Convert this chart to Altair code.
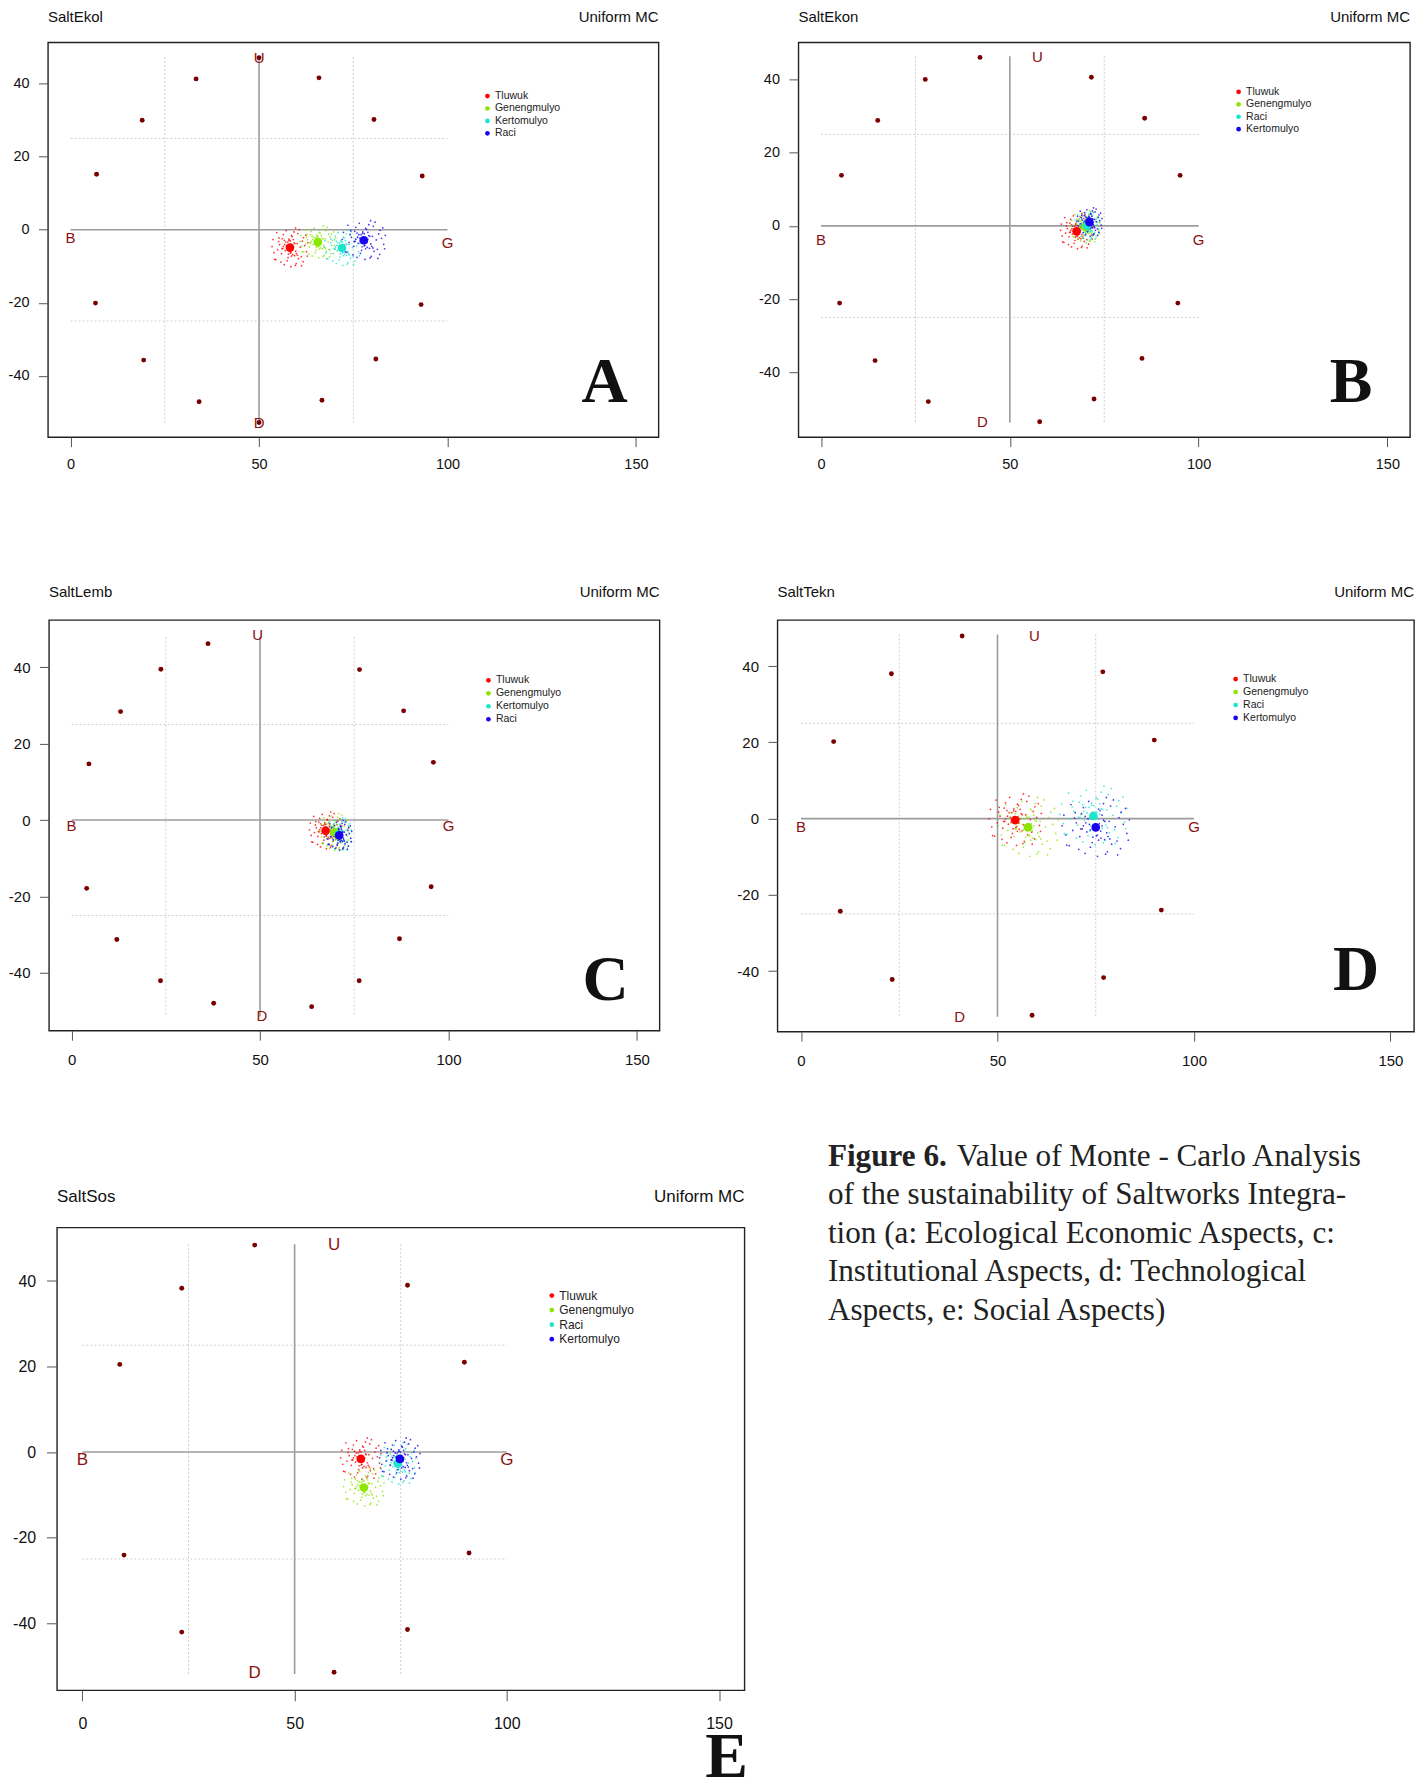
import altair as alt
import pandas as pd

# ---------------- shared values ----------------
X_DOMAIN = [-6, 156]
X_TICKS = [0, 50, 100, 150]
Y_TICKS = [-40, -20, 0, 20, 40]
GROUP_COLORS = ["#FF0000", "#8CE600", "#1AE6CC", "#1A00F0"]
ANCHOR_COLOR = "#7A0000"
LABEL_COLOR = "#8B1010"
LEGEND_X = 110.6                    # data position of legend symbols
LEGEND_Y = [36.6, 33.2, 29.8, 26.4]
LABEL_TEXT = ["U", "D", "B", "G"]

# normalised Monte-Carlo scatter offsets (outer and inner parts of a cloud)
JX = [0.12, -0.45, 0.78, -0.90, 0.33, -0.20, 0.60, -0.65, 0.05, 0.95, -0.35, 0.42,
      -0.75, 0.18, -0.05, 0.70, -0.55, 0.25, -0.85, 0.50, -0.15, 0.88, -0.40, 0.30,
      -0.70, 0.62, -0.25, 0.08, 0.45, -0.60, 0.15, -0.95, 0.72, -0.30, 0.38, -0.10,
      0.55, -0.48, 0.22, -0.82, 0.92, -0.12, 0.02, -0.58, 0.66, -0.38, 0.28, 0.84,
      0.10, -0.22, 0.31, -0.08, 0.18, -0.35, 0.05, 0.26, -0.15, 0.40, -0.28, 0.02,
      0.14, -0.42, 0.22, -0.05, 0.35, -0.18, 0.08, -0.30]
JY = [0.55, -0.30, 0.10, 0.40, -0.80, 0.85, -0.45, -0.10, -0.95, 0.25, 0.65, 0.70,
      -0.60, 0.05, 0.35, -0.70, 0.15, -0.40, -0.25, 0.90, -0.65, -0.20, 0.45, 0.98,
      0.75, -0.90, -0.15, 0.60, -0.55, 0.30, -0.35, 0.05, 0.50, -0.85, 0.20, -0.50,
      0.02, -0.72, 0.78, -0.58, -0.42, 0.28, -0.28, 0.48, 0.32, -0.05, -0.88, 0.62,
      0.12, 0.28, -0.18, -0.32, 0.40, 0.05, -0.25, 0.20, -0.08, -0.38, 0.15, 0.33,
      -0.12, -0.05, 0.24, 0.42, -0.30, 0.10, -0.42, 0.36]

# ---------------- panel A : SaltEkol ----------------
A_title = "SaltEkol"
A_groups = ["Tluwuk", "Genengmulyo", "Kertomulyo", "Raci"]
A_cx = [58.2, 65.6, 72.0, 77.8]
A_cy = [-4.9, -3.4, -5.0, -2.9]
A_sx = [5.0, 5.0, 5.0, 6.0]
A_sy = [5.5, 4.5, 5.0, 5.5]
A_anchor_x = [33.3, 65.9, 19.0, 80.5, 6.9, 93.3, 6.6, 93.0, 19.4, 81.0, 34.1, 66.7, 50.0, 50.0]
A_anchor_y = [41.3, 41.6, 30.0, 30.2, 15.2, 14.7, -20.1, -20.5, -35.7, -35.4, -47.1, -46.7, 47.1, -52.8]
A_lab_x = [50.0, 50.0, 0.0, 100.0]
A_lab_y = [47.1, -52.8, -2.4, -3.5]
A_line = [47.3, -52.8]
A_ydom = [-56.8, 51.3]

# ---------------- panel B : SaltEkon ----------------
B_title = "SaltEkon"
B_groups = ["Tluwuk", "Genengmulyo", "Raci", "Kertomulyo"]
B_cx = [67.7, 70.0, 70.4, 71.1]
B_cy = [-1.5, -0.3, 0.0, 1.0]
B_sx = [4.5, 4.0, 3.5, 3.5]
B_sy = [5.0, 4.5, 4.0, 4.0]
B_anchor_x = [42.1, 27.6, 71.6, 15.0, 85.7, 5.4, 95.1, 4.9, 94.5, 14.3, 85.0, 28.4, 72.3, 57.9]
B_anchor_y = [46.0, 40.0, 40.6, 28.8, 29.4, 13.8, 13.8, -21.1, -21.1, -36.8, -36.2, -48.0, -47.3, -53.5]
B_lab_x = [57.3, 42.7, 0.0, 100.0]
B_lab_y = [46.1, -53.7, -3.8, -3.8]
B_line = [46.3, -53.7]
B_ydom = [-57.7, 50.1]

# ---------------- panel C : SaltLemb ----------------
C_title = "SaltLemb"
C_groups = ["Tluwuk", "Genengmulyo", "Kertomulyo", "Raci"]
C_cx = [67.4, 69.7, 70.9, 71.0]
C_cy = [-2.8, -3.2, -3.8, -4.0]
C_sx = [4.5, 4.0, 3.5, 3.5]
C_sy = [5.0, 5.0, 4.5, 4.0]
C_anchor_x = [36.2, 23.7, 76.4, 13.0, 88.1, 4.6, 96.0, 4.0, 95.4, 12.0, 87.0, 23.6, 76.3, 37.7, 63.7]
C_anchor_y = [46.2, 39.5, 39.4, 28.4, 28.6, 14.7, 15.1, -17.9, -17.5, -31.3, -31.1, -42.1, -42.1, -48.0, -48.9]
C_lab_x = [49.4, 50.5, 0.0, 100.0]
C_lab_y = [48.5, -51.3, -1.5, -1.5]
C_line = [48.0, -51.5]
C_ydom = [-55.2, 52.4]

# ---------------- panel D : SaltTekn ----------------
D_title = "SaltTekn"
D_groups = ["Tluwuk", "Genengmulyo", "Raci", "Kertomulyo"]
D_cx = [54.5, 57.8, 74.4, 75.0]
D_cy = [-0.4, -2.3, 0.7, -2.3]
D_sx = [7.0, 8.0, 9.0, 9.0]
D_sy = [7.0, 8.0, 8.0, 8.0]
D_anchor_x = [41.0, 23.0, 76.8, 8.3, 89.9, 10.0, 91.7, 23.2, 77.0, 58.8]
D_anchor_y = [47.9, 38.0, 38.5, 20.2, 20.6, -24.3, -24.0, -42.2, -41.7, -51.6]
D_lab_x = [59.4, 40.4, 0.0, 100.0]
D_lab_y = [48.0, -52.0, -2.1, -2.1]
D_line = [48.3, -52.0]
D_ydom = [-55.9, 52.1]

# ---------------- panel E : SaltSos ----------------
E_title = "SaltSos"
E_groups = ["Tluwuk", "Genengmulyo", "Raci", "Kertomulyo"]
E_cx = [65.6, 66.3, 74.3, 74.8]
E_cy = [-1.6, -8.3, -2.7, -1.6]
E_sx = [5.0, 5.0, 4.5, 5.0]
E_sy = [5.0, 4.5, 5.0, 5.0]
E_anchor_x = [40.6, 23.4, 76.6, 8.8, 90.0, 9.8, 91.1, 23.4, 76.6, 59.3]
E_anchor_y = [48.4, 38.3, 39.0, 20.5, 21.0, -24.1, -23.6, -42.1, -41.5, -51.5]
E_lab_x = [59.3, 40.6, 0.0, 100.0]
E_lab_y = [48.4, -51.7, -1.75, -1.75]
E_line = [48.6, -51.9]
E_ydom = [-55.7, 52.5]

CAPTION_BOLD = "Figure 6."
CAPTION_LINES = [
    "Value of Monte - Carlo Analysis",
    "of the sustainability of Saltworks Integra-",
    "tion (a: Ecological Economic Aspects, c:",
    "Institutional Aspects, d: Technological",
    "Aspects, e: Social Aspects)",
]

SANS = "Liberation Sans"
SERIF = "Liberation Serif"
ONE = pd.DataFrame({"t": [0]})


def text_at(text, x, y, **kw):
    return alt.Chart(ONE).mark_text(text=text, **kw).encode(x=alt.value(x), y=alt.value(y))


def panel(title, groups, cx, cy, sx, sy, ax, ay, lx, ly, line, ydom, letter,
          W, H, fs, ax_style, letter_pos, title_off, frame, extra=None):
    tick_fs, title_fs, leg_fs, lab_fs = fs
    tick, xpad, ypad = ax_style
    xs = alt.Scale(domain=X_DOMAIN, nice=False, zero=False)
    ys = alt.Scale(domain=ydom, nice=False, zero=False)
    common = dict(title=None, grid=False, domain=False, tickSize=tick, tickColor="#555",
                  labelFont=SANS, labelFontSize=tick_fs, labelColor="#111",
                  labelFlush=False, labelExpr="datum.value")
    xaxis = alt.Axis(values=X_TICKS, labelPadding=xpad, **common)
    yaxis = alt.Axis(values=Y_TICKS, labelPadding=ypad, **common)
    X = lambda f: alt.X(f, type="quantitative", scale=xs, axis=xaxis)
    Y = lambda f: alt.Y(f, type="quantitative", scale=ys, axis=yaxis)

    top, bot = line
    grid_df = pd.DataFrame({"x": [25, 75, 0, 0], "x2": [25, 75, 100, 100],
                            "y": [top, top, 25, -25], "y2": [bot, bot, 25, -25]})
    axis_df = pd.DataFrame({"x": [50, 0], "x2": [50, 100], "y": [top, 0], "y2": [bot, 0]})

    grid = alt.Chart(grid_df).mark_rule(color="#cfcfcf", strokeDash=[2, 2], strokeWidth=1).encode(
        x=X("x"), x2="x2:Q", y=Y("y"), y2="y2:Q")
    axes = alt.Chart(axis_df).mark_rule(color="#9c9c9c", strokeWidth=1.6).encode(
        x=X("x"), x2="x2:Q", y=Y("y"), y2="y2:Q")

    anchors = alt.Chart(pd.DataFrame({"x": ax, "y": ay})).mark_circle(
        size=24, color=ANCHOR_COLOR, opacity=1).encode(x=X("x"), y=Y("y"))

    labels = alt.Chart(pd.DataFrame({"x": lx, "y": ly, "t": LABEL_TEXT})).mark_text(
        color=LABEL_COLOR, font=SANS, fontSize=lab_fs, baseline="middle", align="center").encode(
        x=X("x"), y=Y("y"), text="t:N")

    cscale = alt.Scale(domain=groups, range=GROUP_COLORS)
    C = alt.Color("g:N", scale=cscale, legend=None)

    cloud_rows = []
    for g, gx, gy, gsx, gsy in zip(groups, cx, cy, sx, sy):
        for jx, jy in zip(JX, JY):
            cloud_rows.append({"g": g, "x": gx + gsx * jx, "y": gy + gsy * jy})
    cloud = alt.Chart(pd.DataFrame(cloud_rows)).mark_circle(size=3, opacity=0.8).encode(
        x=X("x"), y=Y("y"), color=C)
    centers = alt.Chart(pd.DataFrame({"g": groups, "x": cx, "y": cy})).mark_circle(
        size=75, opacity=1).encode(x=X("x"), y=Y("y"), color=C)

    # legend (inside the plot, upper right)
    leg_df = pd.DataFrame({"g": groups, "x": [LEGEND_X] * len(groups), "y": LEGEND_Y})
    leg_pts = alt.Chart(leg_df).mark_circle(size=22, opacity=1).encode(
        x=X("x"), y=Y("y"), color=C)
    leg_txt = alt.Chart(leg_df).mark_text(align="left", baseline="middle", dx=7.5, font=SANS,
                                          fontSize=leg_fs, color="#222").encode(
        x=X("x"), y=Y("y"), text="g:N")

    # invisible frame fixing the panel's bounding box in the layout
    L, R, T, B = frame
    frame_mark = alt.Chart(ONE).mark_rect(opacity=0).encode(
        x=alt.value(-L), x2=alt.value(W + R), y=alt.value(-T), y2=alt.value(H + B))

    t_left = text_at(title, 0, -title_off, font=SANS, fontSize=title_fs, align="left",
                     baseline="middle", color="#111")
    t_right = text_at("Uniform MC", W, -title_off, font=SANS, fontSize=title_fs,
                      align="right", baseline="middle", color="#111")
    big = text_at(letter, letter_pos[0], letter_pos[1], font=SERIF, fontSize=64,
                  fontWeight="bold", align="center", baseline="alphabetic", color="#111")

    layers = [frame_mark, grid, axes, anchors, labels, cloud, centers, leg_pts, leg_txt,
              t_left, t_right, big]
    if extra:
        layers += extra
    return alt.layer(*layers).properties(
        width=W, height=H, view=alt.ViewBackground(stroke="#222", strokeWidth=1.4))


def spacer(w):
    return alt.Chart(ONE).mark_rect(opacity=0).encode(
        x=alt.value(0), x2=alt.value(w), y=alt.value(0), y2=alt.value(1)).properties(
        width=w, height=1)


def independent(c):
    return c.resolve_scale(x="independent", y="independent", color="independent").resolve_axis(
        x="independent", y="independent")


# caption, drawn alongside panel E (positions relative to panel E's plot area)
CAP_X = 771.5
CAP_BASE = [-61.7, -23.2, 15.3, 53.8, 92.3]
CAP_FS = 31.2
caption = [text_at(CAPTION_BOLD, CAP_X, CAP_BASE[0], font=SERIF, fontSize=CAP_FS,
                   fontWeight="bold", align="left", baseline="alphabetic", color="#222")]
for i, ln in enumerate(CAPTION_LINES):
    caption.append(text_at(ln, CAP_X + (129 if i == 0 else 0), CAP_BASE[i], font=SERIF,
                           fontSize=CAP_FS, align="left", baseline="alphabetic", color="#222"))

pA = panel(A_title, A_groups, A_cx, A_cy, A_sx, A_sy, A_anchor_x, A_anchor_y, A_lab_x, A_lab_y,
           A_line, A_ydom, "A", 611, 395, (14.5, 15, 10.5, 15), (9.5, 11, 9.5), (557, 360),
           25.7, (40, 2, 35, 58.5))
pB = panel(B_title, B_groups, B_cx, B_cy, B_sx, B_sy, B_anchor_x, B_anchor_y, B_lab_x, B_lab_y,
           B_line, B_ydom, "B", 612, 395, (14.5, 15, 10.5, 15), (9.5, 11, 9.5), (553, 360),
           25.7, (136, 2, 35, 58.5))
pC = panel(C_title, C_groups, C_cx, C_cy, C_sx, C_sy, C_anchor_x, C_anchor_y, C_lab_x, C_lab_y,
           C_line, C_ydom, "C", 611, 411, (15, 15, 10.5, 15), (9.5, 12, 9.5), (557, 380),
           28, (40.3, 2, 61.9, 39))
pD = panel(D_title, D_groups, D_cx, D_cy, D_sx, D_sy, D_anchor_x, D_anchor_y, D_lab_x, D_lab_y,
           D_line, D_ydom, "D", 637, 412, (15, 15, 10.5, 15), (9.5, 12, 9.5), (579, 370),
           28, (114.1, 2, 61.9, 39))
pE = panel(E_title, E_groups, E_cx, E_cy, E_sx, E_sy, E_anchor_x, E_anchor_y, E_lab_x, E_lab_y,
           E_line, E_ydom, "E", 688, 463, (16, 17, 12, 17), (10.5, 14.5, 10.8), (670, 550),
           30.7, (44.5, 2, 95, 95), extra=caption)

row1 = independent(alt.hconcat(spacer(0.3), pA, pB, spacing=0))
row2 = independent(alt.hconcat(spacer(0.2), pC, pD, spacing=0))
row3 = independent(alt.hconcat(spacer(4.8), pE, spacing=0))

chart = independent(alt.vconcat(row1, row2, row3, spacing=60)).configure_view(
    strokeWidth=0).properties(padding={"left": -2, "top": -2.2, "right": 0, "bottom": 0})

chart.save("out.html", embed_options={"renderer": "svg", "actions": False})
